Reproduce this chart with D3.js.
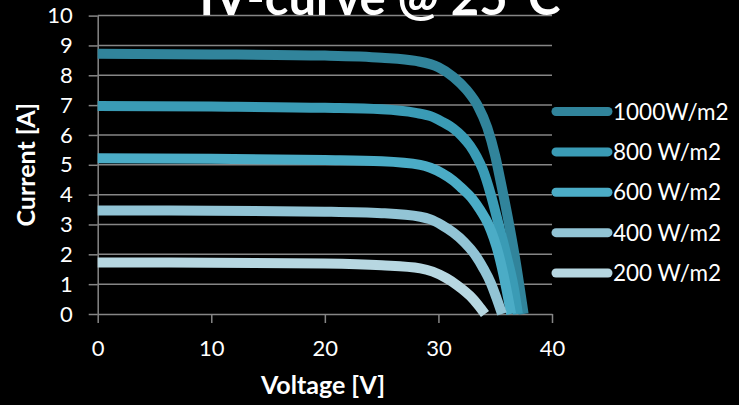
<!DOCTYPE html>
<html>
<head>
<meta charset="utf-8">
<script src="https://cdn.jsdelivr.net/npm/d3@7"></script>
<style>
  html, body { margin: 0; padding: 0; background: #000; }
  svg { display: block; }
  text { font-family: Lato, "Open Sans", sans-serif; fill: #fff; }
</style>
</head>
<body>
<svg id="chart" width="739" height="405"></svg>
<script>
// ---- data ----
const seriesNames = ["1000W/m2", "800 W/m2", "600 W/m2", "400 W/m2", "200 W/m2"];
const seriesColors = ["#31849b", "#3a9bb5", "#4bacc6", "#92c4d5", "#b7d7e1"];

const curve1000 = [[0,8.72],[10,8.70],[20,8.66],[25,8.59],[28,8.48],[30,8.27],[31.3,7.95],[32.5,7.5],[33.5,6.95],[34.3,6.25],[35,5.3],[35.5,4.4],[36.1,3.25],[36.8,1.75],[37.5,0]];
const curve800  = [[0,6.97],[10,6.95],[20,6.91],[25,6.86],[28,6.74],[29.3,6.63],[30.3,6.45],[31.3,6.22],[32.1,5.95],[32.8,5.63],[33.4,5.25],[33.9,4.85],[34.6,4.02],[35.3,3.0],[36.0,1.95],[36.6,0.95],[37.0,0]];
const curve600  = [[0,5.22],[10,5.20],[20,5.16],[25,5.12],[28.4,5.0],[29.3,4.9],[30.3,4.72],[31.3,4.47],[32.1,4.2],[32.9,3.9],[33.7,3.47],[34.4,3.0],[35.3,2.0],[35.9,1.0],[36.4,0]];
const curve400  = [[0,3.47],[10,3.46],[20,3.43],[25,3.38],[28.4,3.26],[29.3,3.17],[30.3,2.98],[31.3,2.73],[32.3,2.4],[33.2,2.0],[34.0,1.5],[34.6,1.05],[35.1,0.55],[35.6,0]];
const curve200  = [[0,1.73],[10,1.72],[20,1.69],[25,1.63],[28.4,1.53],[29.5,1.42],[30.7,1.2],[31.7,0.95],[32.8,0.6],[33.5,0.3],[34.1,0]];
const seriesData = [curve1000, curve800, curve600, curve400, curve200];

const xTicks = [0, 10, 20, 30, 40];
const yTicks = [0, 1, 2, 3, 4, 5, 6, 7, 8, 9, 10];
const titleText = "IV-curve @ 25°C";
const xTitle = "Voltage [V]";
const yTitle = "Current [A]";

// ---- layout ----
const svg = d3.select("#chart");
const x = d3.scaleLinear().domain([0, 40]).range([97.7, 552]);
const y = d3.scaleLinear().domain([0, 10]).range([314, 15.6]);
const gridColor = "#868686";

// gridlines
svg.append("g")
  .selectAll("line")
  .data(yTicks.filter(d => d > 0))
  .join("line")
  .attr("x1", x(0)).attr("x2", x(40))
  .attr("y1", d => y(d)).attr("y2", d => y(d))
  .attr("stroke", gridColor).attr("stroke-width", 1.5);

// y axis
const yAxis = svg.append("g")
  .attr("transform", `translate(${x(0)},0)`)
  .call(d3.axisLeft(y).tickValues(yTicks).tickSize(9).tickPadding(16).tickSizeOuter(0));
yAxis.select(".domain").attr("stroke", gridColor).attr("stroke-width", 1.5);
yAxis.selectAll(".tick line").attr("stroke", gridColor).attr("stroke-width", 1.5);
yAxis.selectAll(".tick text").attr("font-size", 22).attr("font-family", "Lato").attr("fill", "#fff");

// x axis
const xAxis = svg.append("g")
  .attr("transform", `translate(0,${y(0)})`)
  .call(d3.axisBottom(x).tickValues(xTicks).tickSize(9).tickPadding(17).tickSizeOuter(0));
xAxis.select(".domain").attr("stroke", gridColor).attr("stroke-width", 1.5);
xAxis.selectAll(".tick line").attr("stroke", gridColor).attr("stroke-width", 1.5);
xAxis.selectAll(".tick text").attr("font-size", 22).attr("font-family", "Lato").attr("fill", "#fff");

// curves (first series drawn first, last series on top)
const line = d3.line()
  .x(d => x(d[0])).y(d => y(d[1]))
  .curve(d3.curveMonotoneX);

svg.append("g")
  .selectAll("path")
  .data(seriesData.map((d, i) => ({ d, i })))
  .join("path")
  .attr("d", s => line(s.d))
  .attr("fill", "none")
  .attr("stroke", s => seriesColors[s.i])
  .attr("stroke-width", 10)
  .attr("stroke-linejoin", "round")
  .attr("stroke-linecap", "butt");

// legend
const legend = svg.append("g");
const legendY = d3.scaleLinear().domain([0, 4]).range([111.5, 273]);
seriesNames.forEach((name, i) => {
  legend.append("line")
    .attr("x1", 556).attr("x2", 608)
    .attr("y1", legendY(i)).attr("y2", legendY(i))
    .attr("stroke", seriesColors[i]).attr("stroke-width", 9)
    .attr("stroke-linecap", "round");
  legend.append("text")
    .attr("x", 613).attr("y", legendY(i))
    .attr("dy", "0.36em")
    .attr("font-size", 22.5)
    .text(name);
});

// titles
svg.append("text")
  .attr("x", 380).attr("y", 15)
  .attr("text-anchor", "middle")
  .attr("font-size", 49).attr("font-weight", "bold")
  .text(titleText);

svg.append("text")
  .attr("x", 323).attr("y", 394)
  .attr("text-anchor", "middle")
  .attr("font-size", 25).attr("font-weight", "bold")
  .text(xTitle);

svg.append("text")
  .attr("transform", `translate(35,${y(5)}) rotate(-90)`)
  .attr("text-anchor", "middle")
  .attr("font-size", 25).attr("font-weight", "bold")
  .text(yTitle);
</script>
</body>
</html>
